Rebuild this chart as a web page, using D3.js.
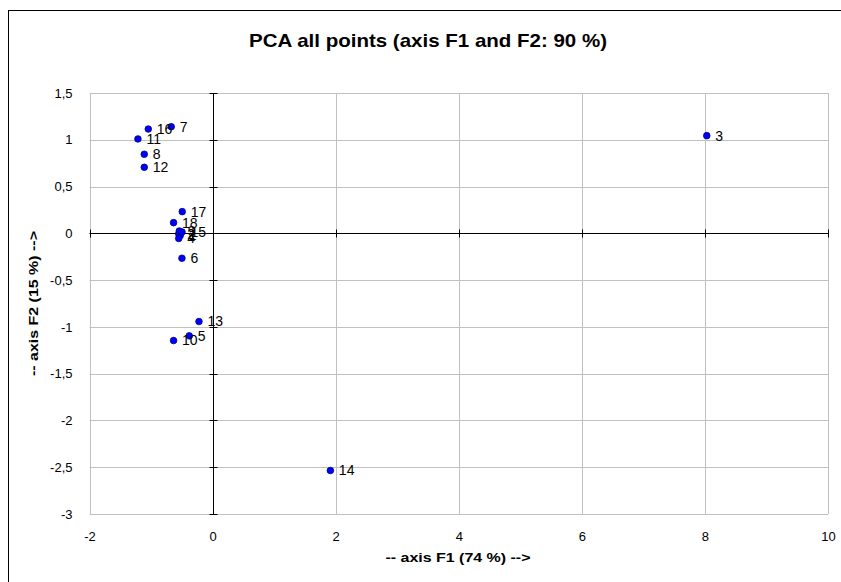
<!DOCTYPE html>
<html>
<head>
<meta charset="utf-8">
<script src="https://cdn.jsdelivr.net/npm/d3@7"></script>
<style>
  body { margin: 0; background: #fff; }
  svg { display: block; font-family: Arial, "Liberation Sans", sans-serif; }
</style>
</head>
<body>
<svg id="chart" width="841" height="582"></svg>
<script>
"use strict"

// observations (label, F1, F2)
let labels = ["1", "2", "3", "4", "5", "6", "7", "8", "9", "10", "11", "12", "13", "14", "15", "16", "17", "18"]
let f1 = [-0.525, -0.55, 8.03, -0.55, -0.379, -0.498, -0.672, -1.11, -0.541, -0.634, -1.213, -1.11, -0.221, 1.914, -0.497, -1.045, -0.493, -0.634]
let f2 = [-0.022, -0.006, 1.044, -0.055, -1.096, -0.266, 1.14, 0.845, 0.025, -1.146, 1.009, 0.706, -0.943, -2.535, 0.014, 1.115, 0.232, 0.114]

let xTicks = [-2, 0, 2, 4, 6, 8, 10]
let yTicks = [1.5, 1, 0.5, 0, -0.5, -1, -1.5, -2, -2.5, -3]

let svg = d3.select("#chart")

let pLeft = 89.5, pRight = 828, pTop = 93, pBottom = 514

let x = d3.scaleLinear().domain([-2, 10]).range([pLeft, pRight])
let y = d3.scaleLinear().domain([-3, 1.5]).range([pBottom, pTop])

let fmt = function(d) { return String(d).replace(".", ",") }

// outer frame
svg.append("rect")
    .attr("x", 8.5).attr("y", 10.5)
    .attr("width", 900).attr("height", 700)
    .attr("fill", "none").attr("stroke", "#000").attr("stroke-width", 1)

// title
svg.append("text")
    .attr("x", 428).attr("y", 47)
    .attr("text-anchor", "middle")
    .attr("font-size", 19).attr("font-weight", "bold")
    .attr("textLength", 358).attr("lengthAdjust", "spacingAndGlyphs")
    .text("PCA all points (axis F1 and F2: 90 %)")

// grid
let grid = svg.append("g").attr("stroke", "#c0c0c0").attr("stroke-width", 1)
grid.selectAll(".gx").data(xTicks).enter().append("line")
    .attr("x1", d => Math.round(x(d)) + 0.5).attr("x2", d => Math.round(x(d)) + 0.5)
    .attr("y1", pTop).attr("y2", pBottom)
grid.selectAll(".gy").data(yTicks).enter().append("line")
    .attr("y1", d => Math.round(y(d)) + 0.5).attr("y2", d => Math.round(y(d)) + 0.5)
    .attr("x1", pLeft).attr("x2", pRight)

// tick labels
let xAxis = svg.append("g")
    .attr("transform", "translate(0," + (pBottom + 15) + ")")
    .call(d3.axisBottom(x).tickValues(xTicks).tickSize(0).tickFormat(fmt))
xAxis.select(".domain").remove()
xAxis.selectAll("text").attr("font-size", 13).attr("font-family", "Arial, 'Liberation Sans', sans-serif").attr("fill", "#000")

let yAxis = svg.append("g")
    .attr("transform", "translate(" + (pLeft - 14) + ",0)")
    .call(d3.axisLeft(y).tickValues(yTicks).tickSize(0).tickFormat(fmt))
yAxis.select(".domain").remove()
yAxis.selectAll("text").attr("font-size", 13).attr("font-family", "Arial, 'Liberation Sans', sans-serif").attr("fill", "#000")

// zero axes with cross ticks
let x0 = Math.round(x(0)) + 0.5, y0 = Math.round(y(0)) + 0.5
let axes = svg.append("g").attr("stroke", "#000").attr("stroke-width", 1)
axes.append("line").attr("x1", x0).attr("x2", x0).attr("y1", pTop).attr("y2", pBottom)
axes.append("line").attr("x1", pLeft).attr("x2", pRight).attr("y1", y0).attr("y2", y0)
axes.selectAll(".ty").data(yTicks).enter().append("line")
    .attr("x1", x0 - 4).attr("x2", x0 + 4)
    .attr("y1", d => Math.round(y(d)) + 0.5).attr("y2", d => Math.round(y(d)) + 0.5)
axes.selectAll(".tx").data(xTicks).enter().append("line")
    .attr("y1", y0 - 4).attr("y2", y0 + 4)
    .attr("x1", d => Math.round(x(d)) + 0.5).attr("x2", d => Math.round(x(d)) + 0.5)

// axis titles
svg.append("text")
    .attr("x", 458).attr("y", 562)
    .attr("text-anchor", "middle")
    .attr("font-size", 13.5).attr("font-weight", "bold")
    .attr("textLength", 145).attr("lengthAdjust", "spacingAndGlyphs")
    .text("-- axis F1 (74 %) -->")
svg.append("text")
    .attr("transform", "translate(38," + ((pTop + pBottom) / 2) + ") rotate(-90)")
    .attr("text-anchor", "middle")
    .attr("font-size", 13.5).attr("font-weight", "bold")
    .attr("textLength", 145).attr("lengthAdjust", "spacingAndGlyphs")
    .text("-- axis F2 (15 %) -->")

// points
let pts = labels.map((l, i) => ({ label: l, f1: f1[i], f2: f2[i] }))
let g = svg.append("g")
g.selectAll("circle").data(pts).enter().append("circle")
    .attr("cx", d => x(d.f1)).attr("cy", d => y(d.f2))
    .attr("r", 3.3)
    .attr("fill", "#0000ff").attr("stroke", "#000080").attr("stroke-width", 0.8)
g.selectAll("text").data(pts).enter().append("text")
    .attr("x", d => x(d.f1) + 8.5).attr("y", d => y(d.f2))
    .attr("dy", "0.35em")
    .attr("font-size", 14)
    .text(d => d.label)
</script>
</body>
</html>
